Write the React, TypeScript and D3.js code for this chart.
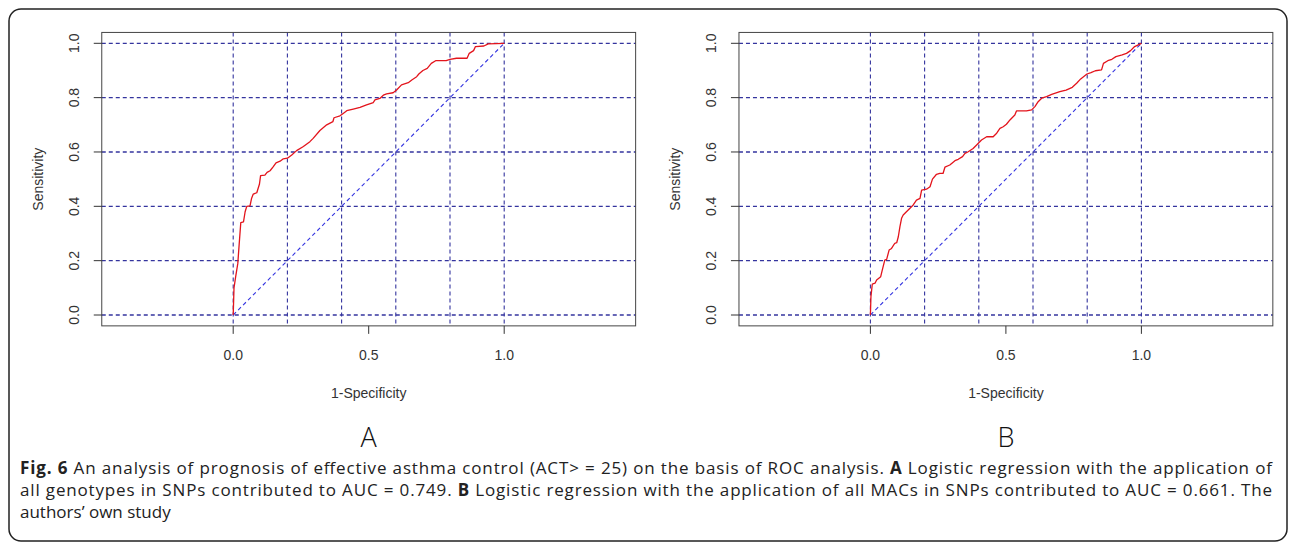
import * as d3 from "d3";

// ROC curve A (all genotypes, AUC = 0.749)
const fprA = [0, 0.003, 0.009, 0.017, 0.022, 0.025, 0.028, 0.038, 0.044, 0.05, 0.062, 0.068, 0.074, 0.087, 0.097, 0.101, 0.117, 0.125, 0.136, 0.148, 0.158, 0.173, 0.185, 0.2, 0.216, 0.234, 0.259, 0.283, 0.295, 0.32, 0.345, 0.368, 0.372, 0.394, 0.406, 0.419, 0.443, 0.468, 0.492, 0.517, 0.523, 0.541, 0.554, 0.566, 0.59, 0.603, 0.621, 0.646, 0.659, 0.677, 0.685, 0.7, 0.716, 0.731, 0.747, 0.786, 0.8, 0.824, 0.863, 0.871, 0.887, 0.894, 0.925, 0.941, 1];
const tprA = [0, 0.1, 0.14, 0.19, 0.26, 0.3, 0.34, 0.343, 0.38, 0.4, 0.402, 0.43, 0.445, 0.45, 0.482, 0.513, 0.515, 0.525, 0.531, 0.546, 0.56, 0.566, 0.575, 0.577, 0.589, 0.605, 0.62, 0.638, 0.65, 0.679, 0.7, 0.712, 0.726, 0.733, 0.742, 0.752, 0.758, 0.764, 0.773, 0.782, 0.792, 0.797, 0.809, 0.814, 0.818, 0.828, 0.847, 0.855, 0.865, 0.877, 0.887, 0.9, 0.908, 0.926, 0.936, 0.936, 0.941, 0.945, 0.945, 0.963, 0.973, 0.988, 0.99, 0.998, 1];

// ROC curve B (all MACs, AUC = 0.661)
const fprB = [0, 0.002, 0.004, 0.007, 0.017, 0.023, 0.038, 0.044, 0.053, 0.06, 0.069, 0.078, 0.09, 0.097, 0.103, 0.109, 0.115, 0.121, 0.133, 0.146, 0.158, 0.17, 0.183, 0.189, 0.207, 0.22, 0.229, 0.244, 0.256, 0.268, 0.275, 0.293, 0.312, 0.324, 0.34, 0.349, 0.361, 0.379, 0.392, 0.41, 0.429, 0.453, 0.466, 0.478, 0.49, 0.502, 0.515, 0.533, 0.539, 0.576, 0.595, 0.607, 0.619, 0.632, 0.65, 0.669, 0.699, 0.722, 0.745, 0.761, 0.776, 0.799, 0.814, 0.83, 0.853, 0.86, 0.876, 0.891, 0.906, 0.929, 0.945, 0.96, 0.975, 1];
const tprB = [0, 0.067, 0.086, 0.114, 0.117, 0.129, 0.141, 0.166, 0.202, 0.205, 0.239, 0.245, 0.264, 0.266, 0.288, 0.325, 0.356, 0.368, 0.38, 0.393, 0.405, 0.423, 0.429, 0.46, 0.463, 0.472, 0.5, 0.518, 0.521, 0.521, 0.544, 0.552, 0.568, 0.573, 0.583, 0.595, 0.601, 0.613, 0.626, 0.644, 0.656, 0.656, 0.669, 0.687, 0.693, 0.702, 0.718, 0.736, 0.751, 0.751, 0.755, 0.767, 0.785, 0.798, 0.804, 0.812, 0.822, 0.828, 0.838, 0.853, 0.869, 0.887, 0.892, 0.899, 0.902, 0.926, 0.936, 0.941, 0.951, 0.957, 0.963, 0.973, 0.988, 1];

const gridTicks = [0, 0.2, 0.4, 0.6, 0.8, 1];
const xTicks = [0, 0.5, 1];
const xTickLabels = ["0.0", "0.5", "1.0"];
const yTickLabels = ["0.0", "0.2", "0.4", "0.6", "0.8", "1.0"];
const panelLabels = ["A", "B"];

const GRID = "#34349e";
const INK = "#333";
const AXIS_FONT = "Liberation Sans, Arial, sans-serif";

function RocPanel({ x0, fpr, tpr, label }) {
  const x = d3.scaleLinear().domain([0, 1]).range([x0, x0 + 271]);
  const y = d3.scaleLinear().domain([0, 1]).range([315, 43.3]);
  const xLo = x(-0.485), xHi = x(1.485);
  const yLo = y(-0.04), yHi = y(1.04);
  const pts = fpr.map((f, i) => [f, tpr[i]]);
  const line = d3.line().x((d) => x(d[0])).y((d) => y(d[1]));

  return (
    <g>
      {/* grid */}
      {gridTicks.map((t) => (
        <line key={"h" + t} x1={xLo} x2={xHi} y1={y(t)} y2={y(t)} stroke={GRID} strokeWidth={1.3} strokeDasharray="4,3" />
      ))}
      {gridTicks.map((t) => (
        <line key={"v" + t} x1={x(t)} x2={x(t)} y1={yHi} y2={yLo} stroke={GRID} strokeWidth={1.1} strokeDasharray="4,3" />
      ))}
      {/* diagonal */}
      <line x1={x(0)} y1={y(0)} x2={x(1)} y2={y(1)} stroke="#3434e0" strokeWidth={1.1} strokeDasharray="4,3" />
      {/* box */}
      <rect x={xLo} y={yHi} width={xHi - xLo} height={yLo - yHi} fill="none" stroke="#444" strokeWidth={1} />
      {/* y axis */}
      {gridTicks.map((t, i) => (
        <g key={"yt" + t}>
          <line x1={xLo - 8} x2={xLo} y1={y(t)} y2={y(t)} stroke={INK} strokeWidth={1} />
          <text transform={`translate(${x0 - 154},${y(t)}) rotate(-90)`} textAnchor="middle" fontSize={14} fill={INK} fontFamily={AXIS_FONT}>
            {yTickLabels[i]}
          </text>
        </g>
      ))}
      <text transform={`translate(${x0 - 190},${y(0.5)}) rotate(-90)`} textAnchor="middle" fontSize={14} fill={INK} fontFamily={AXIS_FONT}>
        Sensitivity
      </text>
      {/* x axis */}
      {xTicks.map((t, i) => (
        <g key={"xt" + t}>
          <line x1={x(t)} x2={x(t)} y1={yLo} y2={yLo + 8} stroke={INK} strokeWidth={1} />
          <text x={x(t)} y={360} textAnchor="middle" fontSize={14} fill={INK} fontFamily={AXIS_FONT}>
            {xTickLabels[i]}
          </text>
        </g>
      ))}
      <text x={x(0.5)} y={398} textAnchor="middle" fontSize={14} fill={INK} fontFamily={AXIS_FONT}>
        1-Specificity
      </text>
      {/* curve */}
      <path d={line(pts)} fill="none" stroke="#e3141c" strokeWidth={1.3} strokeLinejoin="round" />
      <text x={x(0.5)} y={447} textAnchor="middle" fontSize={27} fill="#111" fontFamily="Open Sans, sans-serif" fontWeight={300}>
        {label}
      </text>
    </g>
  );
}

export default function App() {
  const cap = { fontFamily: "Open Sans, Noto Sans, sans-serif", fontSize: "17px", fill: "#222" };
  return (
    <svg width={1292} height={548} style={{ position: "absolute", left: 0, top: 0, background: "#fff" }}>
      <rect x={9} y={9} width={1278} height={532} rx={12} fill="#fff" stroke="#222" strokeWidth={1.5} />
      <RocPanel x0={233.2} fpr={fprA} tpr={tprA} label={panelLabels[0]} />
      <RocPanel x0={870.4} fpr={fprB} tpr={tprB} label={panelLabels[1]} />
      <text x={20} y={474} textLength={1252} lengthAdjust="spacing" style={cap}>
        <tspan fontWeight="bold">Fig. 6</tspan> An analysis of prognosis of effective asthma control (ACT&gt; = 25) on the basis of ROC analysis. <tspan fontWeight="bold">A</tspan> Logistic regression with the application of
      </text>
      <text x={20} y={496} textLength={1252} lengthAdjust="spacing" style={cap}>
        all genotypes in SNPs contributed to AUC = 0.749. <tspan fontWeight="bold">B</tspan> Logistic regression with the application of all MACs in SNPs contributed to AUC = 0.661. The
      </text>
      <text x={20} y={518} style={cap}>
        authors’ own study
      </text>
    </svg>
  );
}
